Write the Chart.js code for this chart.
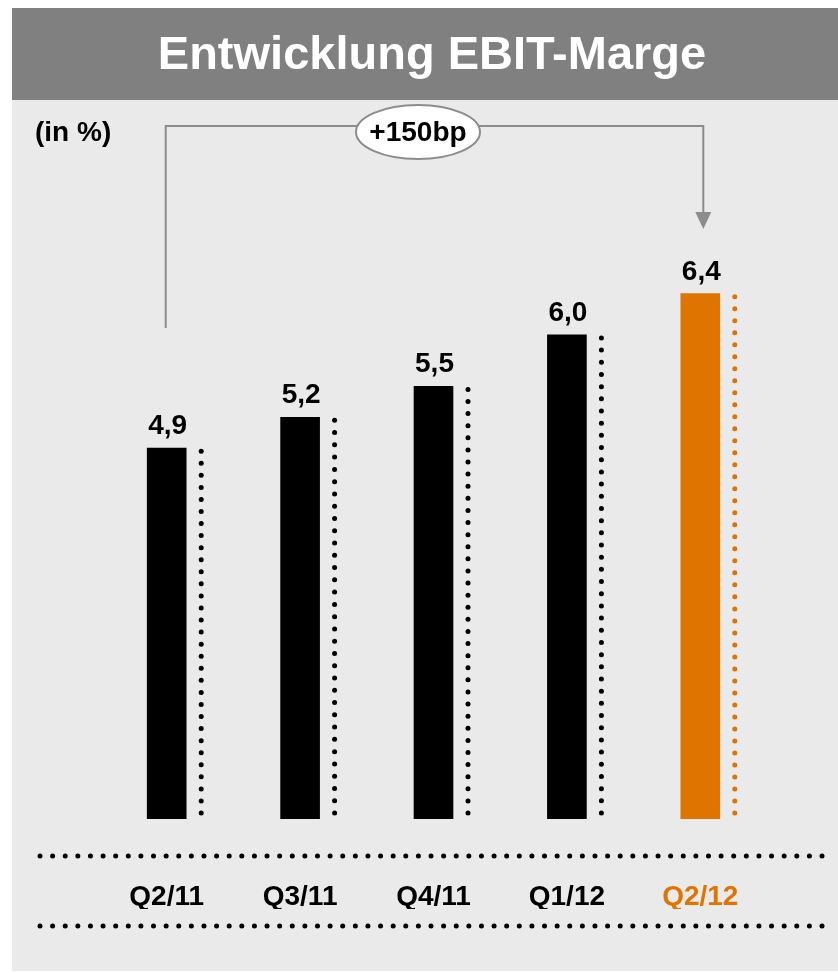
<!DOCTYPE html>
<html>
<head>
<meta charset="utf-8">
<title>Entwicklung EBIT-Marge</title>
<script src="https://cdn.jsdelivr.net/npm/chart.js@4/dist/chart.umd.min.js"></script>
<style>
  html, body { margin: 0; padding: 0; background: #ffffff; }
  canvas { display: block; }
</style>
</head>
<body>
<canvas id="ebitChart" width="838" height="973"></canvas>
<script>
// data
var categories = ['Q2/11', 'Q3/11', 'Q4/11', 'Q1/12', 'Q2/12'];
var ebitMargin = [4.9, 5.2, 5.5, 6.0, 6.4];
var barColors = ['#000000', '#000000', '#000000', '#000000', '#e07400'];
var changeLabel = '+150bp';
var titleText = 'Entwicklung EBIT-Marge';
var unitText = '(in %)';

var FONT = '"Liberation Sans", Arial, Helvetica, sans-serif';

var drawDots = function (ctx, x1, y1, x2, y2, step, r, color) {
    var len = Math.sqrt((x2 - x1) * (x2 - x1) + (y2 - y1) * (y2 - y1));
    var n = Math.floor(len / step);
    ctx.fillStyle = color;
    for (var i = 0; i <= n; i++) {
        var t = n === 0 ? 0 : i / n;
        ctx.beginPath();
        ctx.arc(x1 + (x2 - x1) * t, y1 + (y2 - y1) * t, r, 0, Math.PI * 2);
        ctx.fill();
    }
};

var slidePlugin = {
    id: 'slide',
    beforeDraw: function (chart) {
        var ctx = chart.ctx;
        ctx.save();
        ctx.fillStyle = '#ffffff';
        ctx.fillRect(0, 0, chart.width, chart.height);
        // panel + title bar
        ctx.fillStyle = '#eaeaea';
        ctx.fillRect(12, 100, chart.width - 12, 871);
        ctx.fillStyle = '#808080';
        ctx.fillRect(12, 8, chart.width - 12, 92);
        ctx.fillStyle = '#ffffff';
        ctx.font = 'bold 47px ' + FONT;
        ctx.textAlign = 'center';
        ctx.textBaseline = 'alphabetic';
        ctx.fillText(titleText, 432, 69);
        ctx.fillStyle = '#000000';
        ctx.font = 'bold 28px ' + FONT;
        ctx.textAlign = 'left';
        ctx.textBaseline = 'middle';
        ctx.fillText(unitText, 35, 133);
        ctx.restore();
    },
    afterDatasetsDraw: function (chart) {
        var ctx = chart.ctx;
        var bars = chart.getDatasetMeta(0).data;
        var bottom = chart.chartArea.bottom;
        ctx.save();
        // dotted lines next to each bar + value labels
        for (var i = 0; i < bars.length; i++) {
            var b = bars[i];
            var dx = b.x + b.width / 2 + 15;
            drawDots(ctx, dx, b.y + 3, dx, bottom - 6, 12, 2.5, barColors[i]);
            ctx.fillStyle = '#000000';
            ctx.font = 'bold 28px ' + FONT;
            ctx.textAlign = 'center';
            ctx.textBaseline = 'alphabetic';
            ctx.fillText(ebitMargin[i].toFixed(1).replace('.', ','), b.x + 1, b.y - 14);
        }
        // bracket from first to last bar
        var xl = bars[0].x - 1;
        var xr = bars[bars.length - 1].x + 3;
        var yTop = 126;
        ctx.strokeStyle = '#8c8c8c';
        ctx.lineWidth = 2;
        ctx.beginPath();
        ctx.moveTo(xl, 328);
        ctx.lineTo(xl, yTop);
        ctx.lineTo(xr, yTop);
        ctx.lineTo(xr, 214);
        ctx.stroke();
        ctx.fillStyle = '#8c8c8c';
        ctx.beginPath();
        ctx.moveTo(xr - 8, 212);
        ctx.lineTo(xr + 8, 212);
        ctx.lineTo(xr, 229);
        ctx.closePath();
        ctx.fill();
        // ellipse with change label
        var ex = 418, ey = 132;
        ctx.fillStyle = '#ffffff';
        ctx.strokeStyle = '#8c8c8c';
        ctx.beginPath();
        ctx.ellipse(ex, ey, 62, 27, 0, 0, Math.PI * 2);
        ctx.fill();
        ctx.stroke();
        ctx.fillStyle = '#000000';
        ctx.font = 'bold 28px ' + FONT;
        ctx.textAlign = 'center';
        ctx.textBaseline = 'middle';
        ctx.fillText(changeLabel, ex, ey + 1);
        // dotted rules around the category labels
        drawDots(ctx, 40, 856, 822, 856, 12.6, 2.5, '#000000');
        drawDots(ctx, 40, 926, 822, 926, 12.6, 2.5, '#000000');
        ctx.restore();
    }
};

var ctx = document.getElementById('ebitChart');
new Chart(ctx, {
    type: 'bar',
    data: {
        labels: categories,
        datasets: [{
            data: ebitMargin,
            backgroundColor: barColors,
            borderWidth: 0,
            barThickness: 39
        }]
    },
    options: {
        responsive: false,
        animation: false,
        devicePixelRatio: 1,
        layout: {
            padding: { left: 100, right: 71, top: 201, bottom: 64 }
        },
        plugins: {
            legend: { display: false },
            tooltip: { enabled: false }
        },
        scales: {
            y: {
                display: false,
                min: 1.3,
                max: 7.3
            },
            x: {
                grid: { display: false, drawTicks: false },
                border: { display: false },
                afterFit: function (scale) { scale.height = 90; },
                ticks: {
                    padding: 61,
                    color: barColors,
                    font: { family: FONT, size: 28, weight: 'bold' }
                }
            }
        }
    },
    plugins: [slidePlugin]
});
</script>
</body>
</html>
